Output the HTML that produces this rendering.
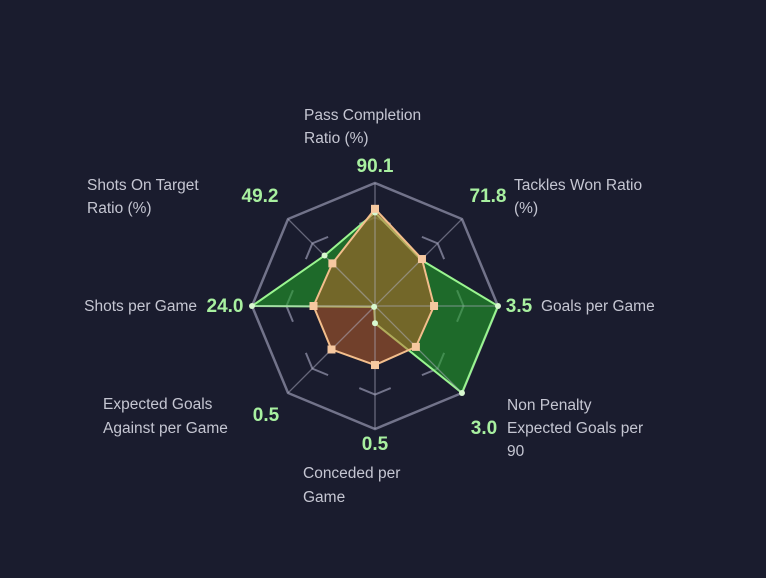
<!DOCTYPE html>
<html><head><meta charset="utf-8"><style>
html,body{margin:0;padding:0;background:#1a1c2e;}
svg{display:block;}
.lbl{font-family:"Liberation Sans",sans-serif;font-size:15.5px;fill:#c5c6d2;}
.val{font-family:"Liberation Sans",sans-serif;font-size:19px;font-weight:bold;fill:#a8f0a0;}
</style></head><body>
<svg id="chart" width="766" height="578" viewBox="0 0 766 578">
<rect width="766" height="578" fill="#1a1c2e"/>
<g id="grid"></g>
<g id="series"></g>
<g id="spokes"></g>
<g id="marks"></g>
<g>
<text class="lbl" x="304" y="120">Pass Completion</text>
<text class="lbl" x="304" y="143">Ratio (%)</text>
<text class="lbl" x="514" y="190">Tackles Won Ratio</text>
<text class="lbl" x="514" y="213">(%)</text>
<text class="lbl" x="541" y="311">Goals per Game</text>
<text class="lbl" x="507" y="410">Non Penalty</text>
<text class="lbl" x="507" y="433">Expected Goals per</text>
<text class="lbl" x="507" y="456">90</text>
<text class="lbl" x="303" y="478">Conceded per</text>
<text class="lbl" x="303" y="502">Game</text>
<text class="lbl" x="103" y="409">Expected Goals</text>
<text class="lbl" x="103" y="433">Against per Game</text>
<text class="lbl" x="197" y="311" text-anchor="end">Shots per Game</text>
<text class="lbl" x="87" y="190">Shots On Target</text>
<text class="lbl" x="87" y="213">Ratio (%)</text>
</g>
<g id="vals"></g>
</svg>
<script>
const categories=["Pass Completion Ratio (%)","Tackles Won Ratio (%)","Goals per Game","Non Penalty Expected Goals per 90","Conceded per Game","Expected Goals Against per Game","Shots per Game","Shots On Target Ratio (%)"];
const greenValues=[0.76,0.53,1.0,1.0,0.14,0.01,1.0,0.58];
const orangeValues=[0.79,0.54,0.48,0.47,0.48,0.5,0.5,0.49];
const valueLabels=["90.1","71.8","3.5","3.0","0.5","0.5","24.0","49.2"];
const NS="http://www.w3.org/2000/svg";
const cx=375,cy=306,R=123;
function ang(i){return -Math.PI/2+i*2*Math.PI/categories.length;}
function pt(i,v){return [cx+R*v*Math.cos(ang(i)),cy+R*v*Math.sin(ang(i))];}
function mk(tag,attrs,parent){const e=document.createElementNS(NS,tag);for(const k in attrs)e.setAttribute(k,attrs[k]);parent.appendChild(e);return e;}
const grid=document.getElementById('grid');
const n=categories.length;
function poly(v){return categories.map((c,i)=>pt(i,v).join(',')).join(' ');}
let o=mk('polygon',{points:poly(1),fill:'none',stroke:'#72738a','stroke-width':2.5},grid);


const rv=0.72, side=2*R*rv*Math.sin(Math.PI/n), dash=34;
let d='';for(let i=0;i<=n;i++){const p=pt(i%n,rv);d+=(i?'L':'M')+p[0]+','+p[1];}
let ir=mk('path',{d:d,fill:'none',stroke:'#72738a','stroke-width':2,'stroke-dasharray':dash+' '+(side-dash),'stroke-dashoffset':dash/2},grid);


const spokes=document.getElementById('spokes');
categories.forEach((c,i)=>{const p=pt(i,1);const l=mk('line',{x1:cx,y1:cy,x2:p[0],y2:p[1],stroke:'rgba(180,180,200,0.5)','stroke-width':1.3},spokes);

});
const ser=document.getElementById('series');
const g=mk('polygon',{points:greenValues.map((v,i)=>pt(i,v).join(',')).join(' '),fill:'rgba(34,158,40,0.6)',stroke:'#9af590','stroke-width':2,'stroke-linejoin':'round'},ser);


const or=mk('polygon',{points:orangeValues.map((v,i)=>pt(i,v).join(',')).join(' '),fill:'rgba(200,100,40,0.5)',stroke:'#f3be8c','stroke-width':2,'stroke-linejoin':'round'},ser);


const marks=document.getElementById('marks');
greenValues.forEach((v,i)=>{const p=pt(i,v);const c=mk('circle',{cx:p[0],cy:p[1],r:3,fill:'#d8f8d0'},marks);

});
orangeValues.forEach((v,i)=>{const p=pt(i,v);const r=mk('rect',{x:p[0]-4,y:p[1]-4,width:8,height:8,fill:'#f6c8a0'},marks);

});
const vpos=[[375,172,'middle'],[488,202,'middle'],[519,312,'middle'],[484,434,'middle'],[375,450,'middle'],[266,421,'middle'],[225,312,'middle'],[260,202,'middle']];
const vals=document.getElementById('vals');
valueLabels.forEach((t,i)=>{const e=mk('text',{x:vpos[i][0],y:vpos[i][1],'text-anchor':vpos[i][2],class:'val'},vals);e.textContent=t;

});
</script>
</body></html>
